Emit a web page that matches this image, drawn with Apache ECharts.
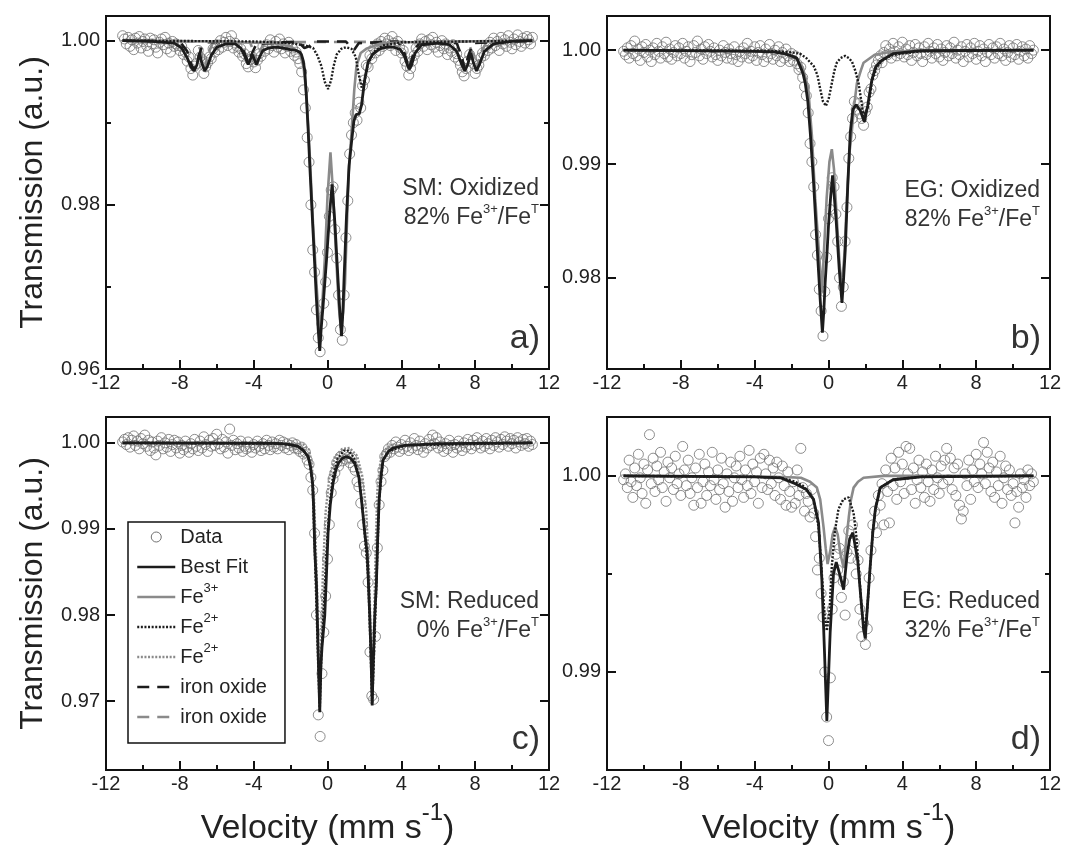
<!DOCTYPE html>
<html><head><meta charset="utf-8">
<script src="https://cdn.jsdelivr.net/npm/echarts@6/dist/echarts.min.js"></script>
<style>html,body{margin:0;padding:0;background:#fff}#c{width:1065px;height:852px}</style>
</head><body><div id="c"></div>
<script>
// ---------------- DATA ----------------
const velocity = [
-11.1,-11.0,-10.9,-10.8,-10.7,-10.6,-10.5,-10.4,-10.3,-10.2,
-10.1,-10.0,-9.9,-9.8,-9.7,-9.6,-9.5,-9.4,-9.3,-9.2,
-9.1,-9.0,-8.9,-8.8,-8.7,-8.6,-8.5,-8.4,-8.3,-8.2,
-8.1,-8.0,-7.9,-7.8,-7.7,-7.6,-7.5,-7.4,-7.3,-7.2,
-7.1,-7.0,-6.9,-6.8,-6.7,-6.6,-6.5,-6.4,-6.3,-6.2,
-6.1,-6.0,-5.9,-5.8,-5.7,-5.6,-5.5,-5.4,-5.3,-5.2,
-5.1,-5.0,-4.9,-4.8,-4.7,-4.6,-4.5,-4.4,-4.3,-4.2,
-4.1,-4.0,-3.9,-3.8,-3.7,-3.6,-3.5,-3.4,-3.3,-3.2,
-3.1,-3.0,-2.9,-2.8,-2.7,-2.6,-2.5,-2.4,-2.3,-2.2,
-2.1,-2.0,-1.9,-1.8,-1.7,-1.6,-1.5,-1.4,-1.3,-1.2,
-1.1,-1.0,-0.9,-0.8,-0.7,-0.6,-0.5,-0.4,-0.3,-0.2,
-0.1,0.0,0.1,0.2,0.3,0.4,0.5,0.6,0.7,0.8,
0.9,1.0,1.1,1.2,1.3,1.4,1.5,1.6,1.7,1.8,
1.9,2.0,2.1,2.2,2.3,2.4,2.5,2.6,2.7,2.8,
2.9,3.0,3.1,3.2,3.3,3.4,3.5,3.6,3.7,3.8,
3.9,4.0,4.1,4.2,4.3,4.4,4.5,4.6,4.7,4.8,
4.9,5.0,5.1,5.2,5.3,5.4,5.5,5.6,5.7,5.8,
5.9,6.0,6.1,6.2,6.3,6.4,6.5,6.6,6.7,6.8,
6.9,7.0,7.1,7.2,7.3,7.4,7.5,7.6,7.7,7.8,
7.9,8.0,8.1,8.2,8.3,8.4,8.5,8.6,8.7,8.8,
8.9,9.0,9.1,9.2,9.3,9.4,9.5,9.6,9.7,9.8,
9.9,10.0,10.1,10.2,10.3,10.4,10.5,10.6,10.7,10.8,
10.9,11.0,11.1];

// a) SM oxidized - measured transmission
const dataA = [
1.0006,1.0002,0.9996,1.0004,0.9993,1.0001,0.9989,1.0003,0.9997,1.0005,
0.9991,0.9999,1.0002,0.9994,0.9987,1.0003,0.9996,1.0001,0.9992,0.9985,
0.9998,1.0002,0.9995,1.0004,0.9990,0.9997,0.9986,0.9999,0.9993,0.9996,
0.9994,0.9988,0.9993,0.9983,0.9986,0.9975,0.9980,0.9966,0.9958,0.9969,
0.9972,0.9988,0.9980,0.9977,0.9960,0.9968,0.9973,0.9980,0.9978,0.9990,
0.9986,0.9995,0.9989,1.0000,0.9992,0.9998,1.0004,0.9994,0.9999,1.0006,
0.9991,0.9997,0.9993,0.9986,0.9990,0.9981,0.9984,0.9972,0.9968,0.9977,
0.9981,0.9974,0.9967,0.9976,0.9984,0.9981,0.9993,0.9987,0.9995,0.9990,
1.0001,0.9994,0.9986,0.9999,0.9992,1.0002,0.9990,0.9996,0.9985,0.9993,
0.9998,0.9987,0.9991,0.9982,0.9986,0.9978,0.9972,0.9962,0.9940,0.9918,
0.9882,0.9852,0.9800,0.9745,0.9718,0.9672,0.9638,0.9621,0.9655,0.9680,
0.9706,0.9742,0.9786,0.9818,0.9822,0.9770,0.9735,0.9690,0.9648,0.9635,
0.9690,0.9760,0.9805,0.9862,0.9885,0.9900,0.9912,0.9903,0.9925,0.9918,
0.9945,0.9952,0.9970,0.9968,0.9982,0.9978,0.9990,0.9985,0.9996,0.9988,
0.9999,0.9993,1.0003,0.9996,1.0000,0.9994,1.0005,0.9997,0.9988,0.9999,
0.9992,0.9985,0.9988,0.9975,0.9969,0.9958,0.9966,0.9975,0.9982,0.9991,
0.9987,0.9996,1.0002,0.9993,0.9999,0.9989,1.0001,0.9995,1.0004,0.9992,
0.9998,0.9986,0.9994,1.0000,0.9990,0.9996,0.9983,0.9991,0.9987,0.9995,
0.9980,0.9984,0.9976,0.9970,0.9962,0.9957,0.9966,0.9975,0.9983,0.9978,
0.9972,0.9960,0.9966,0.9970,0.9979,0.9985,0.9982,0.9993,0.9988,0.9998,
0.9991,1.0003,0.9994,0.9999,0.9988,1.0004,0.9996,1.0001,0.9993,1.0006,
0.9998,0.9990,1.0002,0.9995,1.0007,0.9999,0.9993,1.0003,0.9997,1.0005,
1.0001,0.9996,1.0004];

// b) EG oxidized
const dataB = [
0.9999,0.9996,1.0002,0.9993,1.0004,0.9997,1.0008,0.9995,1.0001,0.9991,
1.0003,0.9998,1.0005,0.9994,1.0000,0.9990,1.0002,0.9996,1.0006,0.9999,
0.9993,1.0003,0.9997,1.0007,0.9994,1.0001,0.9992,0.9998,1.0004,0.9995,
1.0002,0.9997,1.0006,0.9993,0.9999,1.0003,0.9990,0.9996,1.0004,0.9998,
1.0008,0.9995,1.0001,0.9992,1.0003,0.9997,1.0005,0.9999,0.9994,1.0002,
0.9996,0.9991,1.0000,0.9995,1.0004,0.9998,0.9993,1.0001,0.9997,0.9992,
1.0003,0.9996,0.9990,0.9999,0.9994,1.0002,0.9997,1.0006,0.9993,0.9999,
0.9995,1.0003,0.9991,0.9998,1.0004,0.9996,0.9990,1.0001,0.9994,1.0005,
0.9997,0.9992,1.0000,0.9995,1.0003,0.9990,0.9998,0.9993,1.0001,0.9995,
0.9990,0.9997,0.9991,0.9995,0.9988,0.9983,0.9985,0.9976,0.9968,0.9960,
0.9945,0.9918,0.9902,0.9880,0.9838,0.9820,0.9790,0.9771,0.9749,0.9788,
0.9818,0.9852,0.9860,0.9888,0.9880,0.9856,0.9832,0.9800,0.9775,0.9792,
0.9832,0.9862,0.9905,0.9924,0.9940,0.9955,0.9948,0.9953,0.9944,0.9940,
0.9934,0.9946,0.9950,0.9963,0.9966,0.9978,0.9982,0.9987,0.9991,0.9995,
0.9989,0.9998,1.0004,0.9996,1.0001,0.9993,1.0006,0.9999,0.9995,1.0003,
0.9997,1.0007,0.9994,1.0001,0.9996,1.0004,0.9991,0.9998,1.0005,0.9995,
1.0002,0.9997,0.9990,1.0003,0.9996,1.0006,0.9999,0.9993,1.0002,0.9997,
1.0005,0.9994,1.0001,0.9991,0.9998,1.0004,0.9995,1.0002,0.9997,1.0007,
0.9993,1.0000,0.9996,1.0003,0.9990,0.9999,1.0005,0.9994,1.0002,0.9997,
1.0006,0.9992,0.9999,1.0004,0.9995,1.0001,0.9990,0.9998,1.0005,0.9996,
1.0002,0.9993,1.0003,0.9997,1.0006,0.9995,1.0001,0.9991,0.9998,1.0004,
0.9994,1.0002,0.9996,1.0005,0.9992,0.9999,1.0003,0.9995,1.0001,0.9993,
1.0004,0.9997,1.0000];

// c) SM reduced
const dataC = [
1.0001,1.0004,0.9998,1.0006,0.9995,1.0003,1.0008,0.9997,1.0002,0.9993,
1.0005,0.9999,1.0009,0.9996,1.0003,0.9991,1.0001,0.9994,0.9986,1.0002,
0.9997,1.0006,0.9993,1.0000,0.9995,1.0004,0.9990,0.9998,1.0003,0.9994,
1.0001,0.9988,0.9997,0.9992,1.0002,0.9995,0.9989,0.9999,0.9993,1.0004,
0.9996,0.9991,1.0002,0.9994,1.0007,0.9998,0.9990,1.0003,0.9996,1.0005,
0.9997,1.0010,0.9999,0.9993,1.0004,0.9995,1.0001,0.9988,1.0016,0.9997,
1.0003,0.9992,0.9999,0.9994,1.0002,0.9990,0.9996,0.9993,1.0001,0.9995,
0.9989,0.9998,0.9994,1.0002,0.9996,0.9991,0.9999,0.9993,1.0003,0.9997,
0.9992,1.0001,0.9995,0.9999,0.9993,1.0003,0.9997,1.0001,0.9994,0.9999,
0.9992,0.9997,1.0000,0.9994,0.9998,0.9993,0.9990,0.9995,0.9987,0.9989,
0.9980,0.9975,0.9960,0.9945,0.9895,0.9800,0.9684,0.9659,0.9732,0.9780,
0.9822,0.9865,0.9905,0.9942,0.9958,0.9965,0.9977,0.9973,0.9984,0.9979,
0.9986,0.9981,0.9983,0.9977,0.9982,0.9972,0.9968,0.9955,0.9949,0.9930,
0.9905,0.9880,0.9872,0.9838,0.9757,0.9706,0.9702,0.9775,0.9878,0.9928,
0.9955,0.9968,0.9984,0.9987,0.9993,0.9989,0.9997,0.9993,1.0001,0.9995,
0.9990,0.9998,0.9993,1.0003,0.9996,0.9991,1.0000,0.9994,1.0005,0.9997,
0.9992,1.0002,0.9996,0.9989,0.9999,0.9994,1.0004,0.9997,1.0009,0.9999,
1.0006,0.9994,1.0001,0.9996,0.9990,0.9999,0.9993,1.0003,0.9997,0.9989,
0.9998,0.9994,1.0002,0.9996,0.9991,1.0000,0.9995,1.0004,0.9998,0.9993,
1.0003,0.9997,1.0006,0.9999,0.9994,1.0002,0.9996,1.0005,0.9999,0.9993,
1.0003,0.9997,1.0006,1.0001,0.9995,1.0004,0.9998,1.0007,1.0002,0.9996,
1.0005,0.9999,1.0003,0.9994,1.0006,1.0001,0.9997,1.0004,0.9999,1.0005,
0.9996,1.0002,0.9998];

// d) EG reduced
const dataD = [
0.9998,1.0001,0.9994,1.0008,0.9997,0.9989,1.0004,0.9995,1.0011,0.9999,
0.9991,1.0006,0.9986,1.0003,1.0021,0.9996,1.0009,0.9992,1.0005,0.9998,
1.0012,0.9994,1.0002,0.9987,1.0007,0.9999,1.0004,0.9993,1.0010,0.9996,
1.0001,0.9990,1.0015,1.0003,0.9995,1.0008,0.9991,0.9999,0.9985,1.0004,
0.9994,1.0011,0.9986,0.9997,1.0006,0.9990,1.0002,0.9995,1.0012,0.9998,
0.9988,1.0003,0.9993,1.0009,0.9996,0.9984,1.0001,0.9992,1.0007,0.9987,
0.9999,1.0005,0.9994,1.0010,0.9998,0.9989,1.0003,0.9995,1.0013,0.9991,
1.0006,0.9997,1.0002,0.9986,1.0009,0.9994,1.0011,1.0001,0.9993,1.0008,
0.9996,1.0004,0.9990,1.0007,0.9999,0.9988,1.0005,0.9995,0.9985,1.0002,
0.9992,0.9984,0.9997,0.9986,1.0003,0.9990,1.0014,0.9994,0.9982,0.9991,
0.9987,0.9979,0.9993,0.9981,0.9969,0.9952,0.9958,0.9940,0.9928,0.9900,
0.9877,0.9865,0.9897,0.9932,0.9948,0.9960,0.9952,0.9963,0.9938,0.9946,
0.9929,0.9961,0.9972,0.9958,0.9975,0.9966,0.9950,0.9957,0.9932,0.9918,
0.9925,0.9914,0.9922,0.9948,0.9962,0.9975,0.9982,0.9971,0.9990,0.9985,
0.9996,0.9975,1.0003,0.9992,0.9976,1.0009,0.9995,1.0004,0.9988,1.0012,
0.9997,1.0006,0.9991,1.0015,1.0001,1.0014,0.9993,1.0004,0.9986,0.9998,
1.0008,0.9994,1.0002,0.9989,1.0006,0.9997,0.9987,1.0003,0.9993,1.0010,
0.9999,0.9991,1.0005,0.9996,1.0008,1.0014,0.9998,1.0009,0.9993,1.0004,
0.9990,1.0006,0.9985,0.9978,0.9982,1.0001,0.9995,1.0008,0.9988,1.0003,
0.9997,1.0011,0.9994,1.0006,1.0001,1.0017,0.9996,1.0012,1.0004,0.9992,
1.0007,0.9989,1.0002,0.9995,1.0010,0.9986,0.9999,1.0005,0.9993,1.0003,
0.9990,0.9996,0.9976,0.9992,0.9984,1.0001,0.9994,0.9998,0.9989,1.0003,
0.9995,1.0001,0.9997];

// fitted curves, [velocity, transmission]
const fitA = [[-11.1,1.0000],[-9.5,0.9999],[-8.3,0.9997],[-7.9,0.9991],[-7.6,0.9979],[-7.4,0.9968],[-7.23,0.9963],[-7.08,0.9970],[-6.94,0.9985],[-6.8,0.9972],[-6.65,0.9963],[-6.5,0.9969],[-6.3,0.9982],[-6.0,0.9992],[-5.5,0.9996],[-5.0,0.9996],[-4.7,0.9991],[-4.5,0.9982],[-4.3,0.9971],[-4.16,0.9978],[-4.07,0.9983],[-3.98,0.9978],[-3.85,0.9971],[-3.7,0.9979],[-3.5,0.9988],[-3.2,0.9991],[-2.8,0.9992],[-2.4,0.9991],[-2.0,0.9989],[-1.7,0.9988],[-1.5,0.9986],[-1.41,0.9983],[-1.32,0.9976],[-1.23,0.9963],[-1.14,0.9930],[-1.05,0.9892],[-0.96,0.9848],[-0.78,0.9766],[-0.6,0.9685],[-0.5,0.9647],[-0.42,0.9622],[-0.34,0.9650],[-0.24,0.9677],[-0.05,0.9734],[0.12,0.9791],[0.25,0.9825],[0.40,0.9778],[0.58,0.9705],[0.68,0.9665],[0.76,0.9640],[0.83,0.9668],[0.9,0.9712],[1.03,0.9787],[1.17,0.9848],[1.30,0.9876],[1.43,0.9902],[1.55,0.9910],[1.72,0.9911],[1.84,0.9921],[2.02,0.9953],[2.2,0.9974],[2.47,0.9984],[2.83,0.9990],[3.2,0.9992],[3.6,0.9992],[3.95,0.9989],[4.15,0.9982],[4.3,0.9972],[4.42,0.9965],[4.55,0.9970],[4.75,0.9985],[5.1,0.9995],[6.0,0.9997],[6.6,0.9995],[7.0,0.9987],[7.25,0.9972],[7.44,0.9963],[7.6,0.9971],[7.76,0.9985],[7.92,0.9972],[8.07,0.9963],[8.25,0.9972],[8.5,0.9987],[9.0,0.9996],[10.0,0.9999],[11.1,1.0000]];
const fe3A = [[-11.1,1.0000],[-6,0.9999],[-3,0.9997],[-2,0.9993],[-1.5,0.9985],[-1.3,0.9968],[-1.14,0.9935],[-0.96,0.9860],[-0.78,0.9775],[-0.6,0.9705],[-0.5,0.9670],[-0.42,0.9648],[-0.3,0.9672],[-0.13,0.9741],[0.0,0.9810],[0.16,0.9864],[0.3,0.9815],[0.45,0.9745],[0.6,0.9680],[0.72,0.9650],[0.85,0.9670],[0.95,0.9705],[1.05,0.9775],[1.15,0.9840],[1.3,0.9888],[1.45,0.9940],[1.57,0.9969],[1.8,0.9985],[2.1,0.9990],[2.8,0.9996],[4,0.9998],[11.1,1.0000]];
const fe2A = [[-11.1,1.0000],[-4,0.9999],[-2,0.9997],[-1.2,0.9994],[-0.78,0.9991],[-0.55,0.9982],[-0.33,0.9969],[-0.15,0.9950],[0.03,0.9941],[0.2,0.9952],[0.32,0.9968],[0.5,0.9983],[0.75,0.9990],[1.0,0.9992],[1.3,0.9990],[1.53,0.9980],[1.7,0.9958],[1.85,0.9943],[2.0,0.9950],[2.2,0.9972],[2.5,0.9986],[3.0,0.9994],[4,0.9998],[11.1,1.0000]];
const oxide1A = [[-11.1,1.0000],[-8.0,0.9999],[-7.6,0.9987],[-7.4,0.9972],[-7.23,0.9965],[-7.05,0.9974],[-6.85,0.9990],[-6.5,0.9998],[-4.8,0.9998],[-4.55,0.9988],[-4.3,0.9973],[-4.1,0.9984],[-3.85,0.9996],[-1.6,0.9999],[-1.25,0.9991],[-1.0,0.9993],[-0.7,0.9999],[1.0,0.9999],[1.25,0.9992],[1.45,0.9989],[1.7,0.9997],[3.8,0.9999],[4.1,0.9990],[4.42,0.9966],[4.7,0.9988],[5.0,0.9998],[7.0,0.9997],[7.25,0.9982],[7.44,0.9965],[7.65,0.9983],[7.9,0.9997],[11.1,1.0000]];
const oxide2A = [[-11.1,1.0000],[-7.1,0.9999],[-6.85,0.9987],[-6.65,0.9966],[-6.45,0.9985],[-6.2,0.9998],[-4.2,0.9998],[-4.0,0.9987],[-3.85,0.9973],[-3.65,0.9988],[-3.4,0.9998],[7.6,0.9999],[7.85,0.9985],[8.07,0.9966],[8.3,0.9985],[8.6,0.9998],[11.1,1.0000]];

const fitB = [[-11.1,1.0000],[-4,0.9999],[-3,0.99985],[-2.4,0.9997],[-2.0,0.9995],[-1.72,0.9993],[-1.54,0.9986],[-1.39,0.9980],[-1.26,0.9971],[-1.12,0.9955],[-0.99,0.9928],[-0.9,0.9906],[-0.81,0.9884],[-0.72,0.9858],[-0.63,0.9831],[-0.54,0.9806],[-0.45,0.9781],[-0.33,0.9752],[-0.25,0.9772],[-0.18,0.9796],[-0.08,0.9822],[0.0,0.9846],[0.12,0.9872],[0.22,0.9890],[0.32,0.9870],[0.42,0.9849],[0.58,0.9808],[0.73,0.9778],[0.82,0.9800],[0.91,0.9825],[1.05,0.9884],[1.18,0.9928],[1.32,0.9948],[1.5,0.9952],[1.72,0.9947],[1.94,0.9937],[2.12,0.9951],[2.35,0.9974],[2.55,0.9985],[2.8,0.9990],[3.5,0.9997],[5,0.99995],[11.1,1.0000]];
const fe3B = [[-11.1,1.0000],[-3,0.9999],[-2.2,0.9996],[-1.7,0.9992],[-1.4,0.9985],[-1.1,0.9967],[-0.9,0.9925],[-0.72,0.9870],[-0.54,0.9828],[-0.36,0.9787],[-0.25,0.9822],[-0.1,0.9870],[0.05,0.9902],[0.18,0.9913],[0.3,0.9895],[0.45,0.9852],[0.6,0.9812],[0.72,0.9790],[0.85,0.9818],[1.0,0.9870],[1.15,0.9912],[1.27,0.9930],[1.38,0.9950],[1.54,0.9971],[1.75,0.9982],[1.9,0.9989],[2.5,0.9996],[3.5,0.9999],[11.1,1.0000]];
const fe2B = [[-11.1,1.0000],[-3,0.99995],[-2.0,0.9998],[-1.55,0.9997],[-1.2,0.9993],[-0.8,0.9986],[-0.6,0.9978],[-0.45,0.9966],[-0.3,0.9955],[-0.14,0.9951],[0.02,0.9958],[0.18,0.9971],[0.32,0.9982],[0.45,0.9989],[0.65,0.9993],[0.9,0.9995],[1.1,0.9993],[1.27,0.9990],[1.45,0.9982],[1.63,0.9971],[1.78,0.9955],[1.9,0.9942],[2.0,0.9941],[2.15,0.9950],[2.35,0.9972],[2.6,0.9985],[2.9,0.9991],[3.5,0.9996],[5,0.9999],[11.1,1.0000]];

const fitC = [[-11.1,1.0000],[-3,0.99995],[-2.5,0.9999],[-2.0,0.9998],[-1.6,0.9996],[-1.3,0.9991],[-1.05,0.9984],[-0.92,0.9972],[-0.81,0.9953],[-0.75,0.9925],[-0.69,0.9876],[-0.6,0.9837],[-0.51,0.9760],[-0.42,0.9687],[-0.36,0.9740],[-0.3,0.9762],[-0.15,0.9799],[-0.05,0.9850],[0.03,0.9895],[0.15,0.9928],[0.3,0.9953],[0.45,0.9968],[0.58,0.9976],[0.8,0.9982],[1.03,0.9984],[1.25,0.9982],[1.48,0.9976],[1.7,0.9960],[1.84,0.9934],[2.02,0.9895],[2.15,0.9872],[2.29,0.9799],[2.36,0.9750],[2.42,0.9695],[2.48,0.9745],[2.56,0.9799],[2.65,0.9837],[2.72,0.9890],[2.8,0.9934],[2.9,0.9962],[3.01,0.9980],[3.3,0.9990],[3.56,0.9994],[4.2,0.9997],[6,0.9999],[11.1,1.0000]];
const fe2C1 = [[-11.1,1.0000],[-2.5,0.9999],[-1.6,0.9996],[-1.3,0.9991],[-1.05,0.9984],[-0.92,0.9972],[-0.81,0.9953],[-0.69,0.9876],[-0.5,0.9740],[-0.42,0.9690],[-0.33,0.9755],[-0.2,0.9810],[-0.05,0.9875],[0.1,0.9925],[0.3,0.9962],[0.55,0.9982],[0.9,0.9991],[1.15,0.9991],[1.45,0.9982],[1.7,0.9962],[1.9,0.9925],[2.05,0.9885],[2.2,0.9845],[2.32,0.9770],[2.42,0.9697],[2.5,0.9742],[2.65,0.9837],[2.8,0.9934],[3.01,0.9980],[3.3,0.9990],[4.2,0.9997],[11.1,1.0000]];
const fe2C2 = [[-11.1,1.0000],[-2,0.99995],[-1.3,0.9998],[-1.0,0.9992],[-0.85,0.9975],[-0.75,0.9945],[-0.65,0.9890],[-0.55,0.9820],[-0.47,0.9740],[-0.42,0.9700],[-0.35,0.9760],[-0.25,0.9850],[-0.1,0.9920],[0.1,0.9960],[0.4,0.9984],[0.8,0.9993],[1.2,0.9994],[1.6,0.9985],[1.9,0.9960],[2.1,0.9920],[2.27,0.9840],[2.37,0.9745],[2.42,0.9705],[2.49,0.9760],[2.6,0.9870],[2.7,0.9945],[2.85,0.9975],[3.0,0.9990],[3.4,0.9997],[11.1,1.0000]];

const fitD = [[-11.1,1.0000],[-4,0.99995],[-2.6,0.9999],[-1.8,0.9996],[-1.2,0.9993],[-0.81,0.9988],[-0.54,0.9976],[-0.36,0.9947],[-0.22,0.9911],[-0.09,0.9875],[0.09,0.9920],[0.27,0.9950],[0.42,0.9956],[0.63,0.9949],[0.82,0.9942],[1.0,0.9959],[1.15,0.9968],[1.32,0.9971],[1.58,0.9957],[1.76,0.9937],[1.9,0.9922],[1.99,0.9917],[2.12,0.9935],[2.26,0.9954],[2.4,0.9971],[2.54,0.9983],[2.8,0.9994],[3.5,0.9998],[5,0.99995],[11.1,1.0000]];
const fe3D = [[-11.1,1.0000],[-3,0.99995],[-1.5,0.9999],[-1.0,0.9997],[-0.63,0.9994],[-0.45,0.9988],[-0.27,0.9974],[-0.15,0.9963],[-0.05,0.9955],[0.1,0.9962],[0.22,0.9970],[0.36,0.9974],[0.5,0.9970],[0.65,0.9960],[0.82,0.9953],[0.95,0.9966],[1.1,0.9979],[1.22,0.9988],[1.36,0.9994],[1.6,0.9997],[1.9,0.9999],[3,1.0000],[11.1,1.0000]];
const fe2D = [[-11.1,1.0000],[-4,0.99995],[-2.6,0.9999],[-1.8,0.9997],[-1.4,0.9995],[-1.0,0.9991],[-0.81,0.9988],[-0.54,0.9974],[-0.36,0.9950],[-0.22,0.9930],[-0.09,0.9921],[0.05,0.9930],[0.18,0.9954],[0.35,0.9972],[0.54,0.9983],[0.8,0.9988],[1.09,0.9989],[1.36,0.9981],[1.5,0.9970],[1.63,0.9954],[1.8,0.9932],[1.95,0.9920],[2.1,0.9932],[2.26,0.9954],[2.4,0.9971],[2.54,0.9983],[2.8,0.9994],[3.5,0.9998],[5,0.99995],[11.1,1.0000]];

// axis ranges and ticks
const xRange = [-12, 12];
const xTickStep = 4;
const yRangeA = [0.960, 1.003], yMajorA = [0.96, 0.98, 1.00], yMinorA = [0.97, 0.99];
const yRangeB = [0.972, 1.003], yMajorB = [0.98, 0.99, 1.00], yMinorB = [];
const yRangeC = [0.962, 1.003], yMajorC = [0.97, 0.98, 0.99, 1.00], yMinorC = [];
const yRangeD = [0.985, 1.003], yMajorD = [0.99, 1.00], yMinorD = [0.995];

const sampleLabels = [['SM: Oxidized', '82%'], ['EG: Oxidized', '82%'], ['SM: Reduced', '0%'], ['EG: Reduced', '32%']];
const panelLetters = ['a)', 'b)', 'c)', 'd)'];
const yTitle = 'Transmission (a.u.)';
const xTitle = 'Velocity (mm s';

// ---------------- CHART ----------------
const FONT = '"Liberation Sans", Arial, Helvetica, sans-serif';
const INK = '#1c1c1c', GRAY = '#8a8a8a', DOT = '#727272', TXT = '#222';
const layout = [
  {left: 106, top: 16, noteY: 203}, {left: 607, top: 16, noteY: 205},
  {left: 106, top: 417, noteY: 616}, {left: 607, top: 417, noteY: 616}
];
const GW = 443, GH = 353;

const panels = [
  {range: yRangeA, major: yMajorA, minor: yMinorA, data: dataA,
   curves: [['oxide (2)', oxide2A], ['oxide (1)', oxide1A], ['Fe3+', fe3A], ['Fe2+ (1)', fe2A], ['Best Fit', fitA]]},
  {range: yRangeB, major: yMajorB, minor: yMinorB, data: dataB,
   curves: [['Fe3+', fe3B], ['Fe2+ (1)', fe2B], ['Best Fit', fitB]]},
  {range: yRangeC, major: yMajorC, minor: yMinorC, data: dataC,
   curves: [['Fe2+ (2)', fe2C2], ['Fe2+ (1)', fe2C1], ['Best Fit', fitC]]},
  {range: yRangeD, major: yMajorD, minor: yMinorD, data: dataD,
   curves: [['Fe3+', fe3D], ['Fe2+ (1)', fe2D], ['Best Fit', fitD]]}
];

const styles = {
  'Best Fit': {color: INK, width: 2.8, type: 'solid', z: 7},
  'Fe3+': {color: GRAY, width: 2.6, type: 'solid', z: 5},
  'Fe2+ (1)': {color: INK, width: 2.4, type: [2, 1.6], z: 6},
  'Fe2+ (2)': {color: GRAY, width: 2.4, type: [2, 1.6], z: 4},
  'oxide (1)': {color: INK, width: 2.6, type: [12, 8], z: 3},
  'oxide (2)': {color: GRAY, width: 2.6, type: [12, 8], z: 2}
};

const tickLine = {color: '#111', width: 2};
const grids = [], xAxes = [], yAxes = [], series = [], graphics = [];

panels.forEach((p, i) => {
  const L = layout[i];
  grids.push({left: L.left, top: L.top, width: GW, height: GH, show: true,
    borderColor: '#111', borderWidth: 2, backgroundColor: 'transparent'});
  xAxes.push({gridIndex: i, type: 'value', min: xRange[0], max: xRange[1], interval: xTickStep,
    position: 'bottom', axisLine: {show: false, onZero: false},
    axisTick: {show: true, inside: true, length: 9, lineStyle: tickLine},
    minorTick: {show: true, splitNumber: 2, length: 5, lineStyle: tickLine},
    axisLabel: {fontSize: 20, fontFamily: FONT, color: TXT, margin: 4},
    splitLine: {show: false}, minorSplitLine: {show: false}});
  const base = {gridIndex: i, type: 'value', min: p.range[0], max: p.range[1],
    axisLine: {show: false, onZero: false}, splitLine: {show: false}};
  const yMain = yAxes.length;
  yAxes.push(Object.assign({}, base, {position: 'left',
    axisTick: {show: true, inside: true, length: 9, customValues: p.major, lineStyle: tickLine},
    axisLabel: {show: true, customValues: p.major, formatter: v => v.toFixed(2),
      fontSize: 20, fontFamily: FONT, color: TXT, margin: 6}}));
  yAxes.push(Object.assign({}, base, {position: 'right',
    axisTick: {show: true, inside: true, length: 9, customValues: p.major, lineStyle: tickLine},
    axisLabel: {show: false}}));
  if (p.minor.length) {
    ['left', 'right'].forEach(pos => yAxes.push(Object.assign({}, base, {position: pos,
      axisTick: {show: true, inside: true, length: 5, customValues: p.minor, lineStyle: tickLine},
      axisLabel: {show: false}})));
  }
  series.push({type: 'scatter', name: 'Data', xAxisIndex: i, yAxisIndex: yMain,
    data: velocity.map((v, k) => [v, p.data[k]]), symbol: 'circle', symbolSize: 10,
    itemStyle: {color: 'rgba(255,255,255,0)', borderColor: DOT, borderWidth: 1},
    z: 1, silent: true});
  p.curves.forEach(([name, pts]) => {
    const s = styles[name];
    series.push({type: 'line', name, xAxisIndex: i, yAxisIndex: yMain, data: pts,
      showSymbol: false, symbol: 'none', smooth: false, z: s.z, silent: true,
      itemStyle: {color: s.color},
      lineStyle: {color: s.color, width: s.width, type: s.type, cap: 'butt'}});
  });

  // annotation
  const right = L.left + GW - 10;
  graphics.push({type: 'text', x: right, y: L.noteY, silent: true,
    style: {text: '{n|' + sampleLabels[i][0] + '}\n{n|' + sampleLabels[i][1] + ' Fe}{s|3+}{n|/Fe}{s|T}',
      align: 'right', verticalAlign: 'middle',
      rich: {n: {fontSize: 23, lineHeight: 29, fontFamily: FONT, fill: '#333'},
             s: {fontSize: 13, lineHeight: 17, verticalAlign: 'top', fontFamily: FONT, fill: '#333'}}}});
  graphics.push({type: 'text', x: L.left + GW - 9, y: L.top + GH - 30, silent: true,
    style: {text: panelLetters[i], fontSize: 34, fontFamily: FONT, fill: '#333',
      align: 'right', verticalAlign: 'middle'}});
});

// axis titles
[0, 2].forEach(i => {
  graphics.push({type: 'text', x: 33, y: layout[i].top + GH / 2, rotation: Math.PI / 2, silent: true,
    style: {text: yTitle, fontSize: 32, fontFamily: FONT, fill: TXT, align: 'center', verticalAlign: 'middle'}});
});
[2, 3].forEach(i => {
  graphics.push({type: 'text', x: layout[i].left + GW / 2, y: 829, silent: true,
    style: {text: '{n|' + xTitle + '}{s|-1}{n|)}', align: 'center', verticalAlign: 'middle',
      rich: {n: {fontSize: 34, lineHeight: 56, fontFamily: FONT, fill: TXT},
             s: {fontSize: 24, lineHeight: 24, verticalAlign: 'top', fontFamily: FONT, fill: TXT}}}});
});

const legendText = {
  'Data': '{n|Data}', 'Best Fit': '{n|Best Fit}', 'Fe3+': '{n|Fe}{s|3+}',
  'Fe2+ (1)': '{n|Fe}{s|2+}', 'Fe2+ (2)': '{n|Fe}{s|2+}',
  'oxide (1)': '{n|iron oxide}', 'oxide (2)': '{n|iron oxide}'
};

const chart = echarts.init(document.getElementById('c'), null, {renderer: 'canvas'});
chart.setOption({
  animation: false,
  backgroundColor: '#fff',
  grid: grids, xAxis: xAxes, yAxis: yAxes, series,
  legend: {
    orient: 'vertical', left: 128, top: 522, padding: [0, 18, 11, 8], itemGap: 0,
    itemWidth: 38, itemHeight: 10, selectedMode: false,
    borderColor: '#111', borderWidth: 1.5, backgroundColor: '#fff',
    data: [{name: 'Data', itemStyle: {opacity: 1}}, 'Best Fit', 'Fe3+', 'Fe2+ (1)', 'Fe2+ (2)', 'oxide (1)', 'oxide (2)'],
    formatter: n => legendText[n],
    itemStyle: {borderWidth: 1, opacity: 0},
    lineStyle: {width: 2.5, opacity: 1},
    textStyle: {fontSize: 20, lineHeight: 30, fontFamily: FONT, color: TXT,
      rich: {n: {fontSize: 20, lineHeight: 30, fontFamily: FONT, color: TXT},
             s: {fontSize: 13, lineHeight: 14, verticalAlign: 'top', fontFamily: FONT, color: TXT}}}
  },
  graphic: {elements: graphics}
});
</script>
</body></html>
